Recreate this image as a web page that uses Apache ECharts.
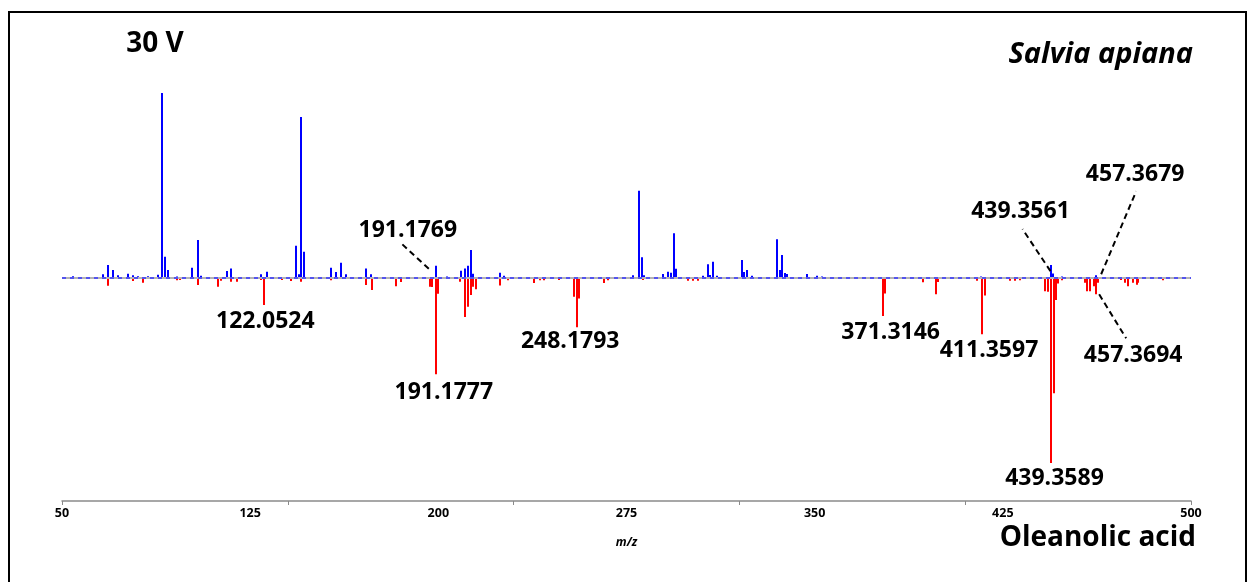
<!DOCTYPE html>
<html>
<head>
<meta charset="utf-8">
<script src="https://cdn.jsdelivr.net/npm/echarts@6/dist/echarts.min.js"></script>
<style>
  html, body { margin: 0; padding: 0; background: #fff; }
  #chart { width: 1249px; height: 582px; }
</style>
</head>
<body>
<div id="chart"></div>
<script>
// Upper trace: Salvia apiana extract at 30 V (m/z, relative intensity %)
const sampleMz = [44.9, 57.2, 59.2, 61.2, 63.2, 67.2, 69.3, 71.3, 75.3, 79.1, 81.0, 82.0, 83.1, 86.7, 93.0, 95.2, 96.5, 106.9, 108.6, 120.7, 123.1, 134.7, 135.9, 136.9, 138.2, 149.1, 151.0, 153.1, 155.0, 162.9, 164.9, 191.1769, 195.6, 201.3, 203.0, 204.3, 205.2, 206.3, 217.1, 218.7, 270.8, 272.9, 274.2, 275.1, 282.9, 284.9, 285.9, 287.1, 288.0, 299.0, 300.8, 301.7, 303.0, 304.4, 314.7, 315.5, 316.7, 318.5, 328.6, 329.9, 330.7, 331.9, 332.9, 340.7, 344.7, 346.7, 354.5, 410.9, 439.3561, 440.1, 443.6, 457.3679, 481.5, 484.7];
const sampleInt = [1.0, 2, 7, 4.3, 1.5, 2.3, 1.5, 1, 1, 1.8, 100, 11.5, 4.3, 0.8, 5.6, 20.5, 1.2, 3.8, 5.2, 2, 3.4, 17.5, 2, 87, 14.2, 5.6, 3.2, 8.3, 2, 5.2, 2, 6.6, 0.8, 4, 5.2, 6.6, 15.1, 2.3, 2.9, 1.2, 1.5, 47.2, 11.2, 1.5, 2.2, 3.4, 2.8, 24.2, 5, 1.2, 7.4, 1.6, 8.8, 1.2, 9.7, 3.3, 4.3, 1.3, 20.9, 4.3, 12.4, 2.7, 2.2, 2.2, 1.3, 0.8, 0.6, 0.8, 7, 2.5, 0.8, 1.5, 0.6, 0.6];

// Lower (mirrored) trace: oleanolic acid standard (m/z, relative intensity %)
const standardMz = [59.2, 69.3, 73.3, 86.7, 88.1, 95.2, 103.5, 104.6, 108.6, 110.9, 120.7, 122.0524, 129.2, 132.8, 136.9, 148.9, 163.0, 165.3, 175.1, 177.0, 188.8, 189.5, 191.1777, 192.2, 200.9, 203.0, 204.3, 205.2, 206.3, 207.4, 217.1, 220.3, 230.8, 233.2, 234.8, 240.8, 246.9, 248.1793, 249.0, 259.1, 260.6, 274.7, 292.8, 294.8, 296.9, 371.3146, 372.3, 387.7, 392.8, 393.7, 409.2, 411.3597, 412.4, 422.6, 424.7, 426.7, 436.7, 438.1, 439.3589, 440.2, 441.1, 442.1, 443.6, 452.9, 453.8, 454.9, 456.6, 457.3694, 458.2, 467.4, 469.0, 470.3, 472.2, 473.7, 474.4, 484.3];
const standardInt = [4.2, 1.6, 2.5, 1.2, 1, 3.8, 4.7, 1.5, 2, 2, 1, 14.6, 1, 1.6, 2, 1.2, 3.8, 6.5, 4.4, 2.2, 4.7, 4.9, 52, 8.5, 2, 21, 15.5, 9.2, 4.7, 6.1, 4, 1.2, 2.7, 1.2, 1.2, 1, 10.1, 26.6, 11, 2.7, 1.2, 1, 1.5, 1.5, 1.5, 20.5, 8.3, 2.3, 8.8, 2.2, 1.5, 30.4, 9.5, 1.5, 1.5, 1.2, 7.2, 7.4, 100, 62.3, 11.9, 3, 1.2, 2.5, 7.2, 7.2, 4.5, 8.8, 2.5, 1, 2.5, 4.5, 2.5, 3.6, 2.5, 1.2];

// Labelled fragment ions
const sampleLabels = [191.1769, 439.3561, 457.3679];
const standardLabels = [122.0524, 191.1777, 248.1793, 371.3146, 411.3597, 439.3589, 457.3694];

// m/z axis tick labels
const mzTickMin = 50, mzTickMax = 500, mzTickStep = 75;

// Label placement: text centre and leader-line ends, in px relative to the peak tip
const labelPlacement = {
  '122.0524': { text: [1, 16] },
  '191.1777': { text: [8, 18] },
  '248.1793': { text: [-7, 14] },
  '371.3146': { text: [8, 16] },
  '411.3597': { text: [7, 16] },
  '439.3589': { text: [3, 15] },
  '191.1769': { text: [-28, -35], lead: [[-7, 3], [-34, -22]] },
  '439.3561': { text: [-31, -54], lead: [[-1, 6], [-29, -36]] },
  '457.3679': { text: [39, -101], lead: [[5, -1], [40, -84]] },
  '457.3694': { text: [37, 61], lead: [[3, 0], [30, 44]] }
};

const FONT = '"Open Sans", "Noto Sans", sans-serif';
const BLUE = '#0000ff';
const RED = '#ff0000';

function intensityOf(mzArr, intArr, m) {
  return intArr[mzArr.indexOf(m)];
}

const annotations = [
  ...sampleLabels.map(m => ({ mz: m, value: intensityOf(sampleMz, sampleInt, m) })),
  ...standardLabels.map(m => ({ mz: m, value: -intensityOf(standardMz, standardInt, m) }))
];

// Stick spectrum drawn as thin rectangles from the baseline to each intensity
function stickSeries(name, mz, ints, sign, color) {
  return {
    name,
    type: 'custom',
    xAxisIndex: 0,
    yAxisIndex: 0,
    silent: true,
    animation: false,
    z: 3,
    data: mz.map((m, i) => [m, sign * ints[i]]),
    renderItem(params, api) {
      const base = api.coord([api.value(0), 0]);
      const tip = api.coord([api.value(0), api.value(1)]);
      return {
        type: 'rect',
        shape: {
          x: Math.round(base[0]) - 1,
          y: Math.min(base[1], tip[1]),
          width: 2,
          height: Math.abs(tip[1] - base[1])
        },
        style: { fill: color }
      };
    }
  };
}

const option = {
  animation: false,
  backgroundColor: '#fff',
  grid: { left: 62, right: 58, top: 93, bottom: 81, containLabel: false },
  xAxis: [
    // scale for the peaks
    { type: 'value', min: 40.5, max: 495.6, show: false, position: 'top' },
    // printed m/z scale
    {
      type: 'value', min: mzTickMin, max: mzTickMax, interval: mzTickStep,
      position: 'bottom',
      axisLine: { show: true, onZero: false, lineStyle: { color: '#8a8a8a', width: 1.5 } },
      axisTick: { show: false },
      splitLine: { show: false },
      axisLabel: { color: '#000', fontFamily: FONT, fontWeight: 'bold', fontSize: 12.5, margin: 6 },
      name: 'm/z', nameLocation: 'middle', nameGap: 36,
      nameTextStyle: { color: '#000', fontFamily: FONT, fontWeight: 'bold', fontStyle: 'italic', fontSize: 12 }
    },
    // minor tick marks
    {
      type: 'value', min: 50, max: 500, interval: 90,
      position: 'bottom',
      axisLine: { show: false, onZero: false },
      axisTick: { show: true, length: 4, lineStyle: { color: '#8a8a8a', width: 1 } },
      axisLabel: { show: false },
      splitLine: { show: false }
    }
  ],
  yAxis: { type: 'value', min: -120.5, max: 100, show: false },
  series: [
    {
      type: 'line', data: [], xAxisIndex: 0, yAxisIndex: 0, silent: true, z: 1,
      markLine: {
        silent: true, symbol: 'none', animation: false, label: { show: false },
        data: [
          { yAxis: 0, lineStyle: { color: '#b4b4b4', width: 2, type: 'solid' } },
          { yAxis: 0, lineStyle: { color: '#3333ff', width: 1.5, type: [4, 4] } }
        ]
      }
    },
    stickSeries('Salvia apiana', sampleMz, sampleInt, 1, BLUE),
    stickSeries('Oleanolic acid', standardMz, standardInt, -1, RED),
    {
      type: 'custom',
      xAxisIndex: 0, yAxisIndex: 0,
      silent: true, animation: false, z: 5,
      data: annotations.map(a => [a.mz, a.value]),
      renderItem(params, api) {
        const a = annotations[params.dataIndex];
        const text = a.mz.toFixed(4);
        const place = labelPlacement[text];
        const tip = api.coord([a.mz, a.value]);
        const children = [{
          type: 'text',
          style: {
            text,
            x: tip[0] + place.text[0],
            y: tip[1] + place.text[1],
            fill: '#000',
            font: 'bold 23px ' + FONT,
            align: 'center',
            verticalAlign: 'middle'
          }
        }];
        if (place.lead) {
          children.push({
            type: 'line',
            shape: {
              x1: tip[0] + place.lead[0][0], y1: tip[1] + place.lead[0][1],
              x2: tip[0] + place.lead[1][0], y2: tip[1] + place.lead[1][1]
            },
            style: { stroke: '#000', lineWidth: 2, lineDash: [6, 4] }
          });
        }
        return { type: 'group', children };
      }
    }
  ],
  graphic: [
    {
      type: 'rect', silent: true,
      shape: { x: 9, y: 12, width: 1237, height: 580 },
      style: { fill: 'none', stroke: '#000', lineWidth: 2 }
    },
    {
      type: 'text', x: 155, y: 44,
      style: { text: '30 V', fill: '#000', font: 'bold 28px ' + FONT, align: 'center', verticalAlign: 'middle' }
    },
    {
      type: 'text', x: 1193, y: 55,
      style: { text: 'Salvia apiana', fill: '#000', font: 'italic bold 29px ' + FONT, align: 'right', verticalAlign: 'middle' }
    },
    {
      type: 'text', x: 1196, y: 538,
      style: { text: 'Oleanolic acid', fill: '#000', font: 'bold 28px ' + FONT, align: 'right', verticalAlign: 'middle' }
    }
  ]
};

const chart = echarts.init(document.getElementById('chart'), null, { renderer: 'canvas' });
chart.setOption(option);
</script>
</body>
</html>
